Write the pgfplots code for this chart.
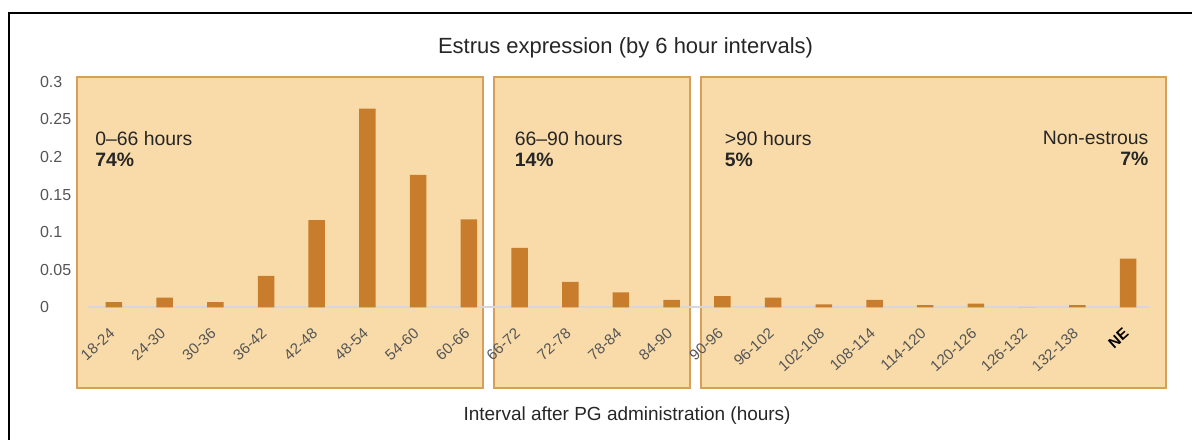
\documentclass[border=0pt]{standalone}
\usepackage{fontspec}
\setmainfont{Liberation Sans}
\usepackage{pgfplots}
\usepackage{pgfplotstable}
\pgfplotsset{compat=1.18}
\definecolor{boxfill}{HTML}{F9DBAA}
\definecolor{boxedge}{HTML}{D6A05A}
\definecolor{barcol}{HTML}{C77D2C}
\definecolor{zeroline}{HTML}{D6D6DC}
\definecolor{ticktext}{HTML}{555555}

\pgfplotstableread{
x y
0 0.007
1 0.013
2 0.007
3 0.042
4 0.116
5 0.264
6 0.176
7 0.117
8 0.079
9 0.034
10 0.020
11 0.010
12 0.015
13 0.013
14 0.004
15 0.010
16 0.003
17 0.005
18 0.000
19 0.003
20 0.065
}\datatable

\pgfplotsset{common/.style={
  at={(0,0)}, anchor=south west,
  scale only axis, width=545pt, height=155.5pt,
  xmin=-0.729, xmax=20.749, ymin=-0.1066, ymax=0.3062,
  axis line style={draw=none}, major tick length=0pt,
  clip=false}}

\begin{document}
\begin{tikzpicture}
\begin{axis}[common, hide axis]
\fill[boxfill, draw=boxedge, line width=1pt] (axis cs:-0.729,-0.1066) rectangle (axis cs:7.271,0.3062);
\fill[boxfill, draw=boxedge, line width=1pt] (axis cs:7.488,-0.1066) rectangle (axis cs:11.369,0.3062);
\fill[boxfill, draw=boxedge, line width=1pt] (axis cs:11.586,-0.1066) rectangle (axis cs:20.749,0.3062);
\draw[zeroline, line width=1pt] (axis cs:-0.51,0) -- (axis cs:20.41,0);
\end{axis}
\begin{axis}[common,
  xtick={0,1,2,3,4,5,6,7,8,9,10,11,12,13,14,15,16,17,18,19,20},
  xticklabels={18-24,24-30,30-36,36-42,42-48,48-54,54-60,60-66,66-72,72-78,78-84,84-90,90-96,96-102,102-108,108-114,114-120,120-126,126-132,132-138,{\color{black}\bfseries NE}},
  xticklabel style={font=\fontsize{7.6}{8}\selectfont, text=ticktext, yshift=29pt, xshift=0pt, rotate=42, anchor=east, inner sep=1pt},
  ytick={0,0.05,0.1,0.15,0.2,0.25,0.3},
  yticklabels={0,0.05,0.1,0.15,0.2,0.25,0.3},
  yticklabel style={font=\fontsize{8}{9}\selectfont, text=ticktext, anchor=west, xshift=-22pt},
]
\addplot[ybar, bar width=8.25pt, fill=barcol, draw=none] table[x=x,y=y]{\datatable};
\node[anchor=north west, inner sep=0pt, align=left, font=\fontsize{9.7}{10.5}\selectfont, text=black!85] at (axis cs:-0.374,0.2345) {0–66 hours\\\textbf{74\%}};
\node[anchor=north west, inner sep=0pt, align=left, font=\fontsize{9.7}{10.5}\selectfont, text=black!85] at (axis cs:7.90,0.2345) {66–90 hours\\\textbf{14\%}};
\node[anchor=north west, inner sep=0pt, align=left, font=\fontsize{9.7}{10.5}\selectfont, text=black!85] at (axis cs:12.04,0.2345) {>90 hours\\\textbf{5\%}};
\node[anchor=north east, inner sep=0pt, align=right, font=\fontsize{9.7}{10.5}\selectfont, text=black!85] at (axis cs:20.41,0.2345) {Non-estrous\\\textbf{7\%}};
\node[anchor=center, font=\fontsize{11}{13}\selectfont, text=black!85] at (axis cs:10.09,0.3062) [yshift=14.5pt] {Estrus expression (by 6 hour intervals)};
\node[anchor=center, font=\fontsize{9.5}{11}\selectfont, text=black!85] at (axis cs:10.12,-0.1066) [yshift=-14pt] {Interval after PG administration (hours)};
\end{axis}
\pgfresetboundingbox
\path (-38.5pt,-26pt) rectangle (558pt,194pt);
\draw[black, line width=1pt] (-34pt,-26pt) -- (-34pt,187.5pt) -- (558pt,187.5pt);
\end{tikzpicture}
\end{document}
